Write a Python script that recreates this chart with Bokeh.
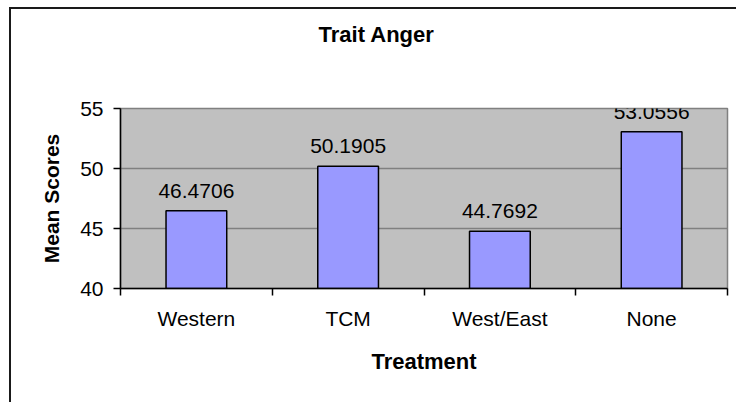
from bokeh.plotting import figure
from bokeh.layouts import column
from bokeh.models import Range1d, FixedTicker, Title
from bokeh.embed import file_html
from bokeh.resources import INLINE
from bokeh.core.properties import value
import numpy as np

# ---- data ----
categories = ["Western", "TCM", "West/East", "None"]
mean_scores = [46.4706, 50.1905, 44.7692, 53.0556]
y_ticks = [40, 45, 50, 55]
title_text = "Trait Anger"
x_title = "Treatment"
y_title = "Mean Scores"

FONT = "Liberation Sans"
y_min, y_max = y_ticks[0], y_ticks[-1]
n = len(categories)
centers = list(np.arange(n) + 0.5)
bounds = list(np.arange(n + 1).astype(float))

p = figure(width=736, height=402, output_backend="svg", toolbar_location=None,
           x_range=Range1d(0, n), y_range=Range1d(y_min, y_max),
           min_border_left=120, min_border_right=9, min_border_top=108,
           min_border_bottom=114, title=None)

p.background_fill_color = "#C0C0C0"
p.border_fill_color = None
p.outline_line_color = "#808080"
p.outline_line_width = 1.5

# spacer (closest to the frame) then the real title further out
p.add_layout(Title(text=" ", standoff=35, text_font=FONT, text_font_size="22px"), "above")
p.add_layout(Title(text=title_text, align="left", offset=198, vertical_align="bottom",
                   standoff=0, text_font=FONT, text_font_size="22px",
                   text_font_style="bold", text_color="black"), "above")

p.vbar(x=centers, top=mean_scores, bottom=y_min, width=0.4,
       fill_color="#9999FF", line_color="black", line_width=1.5)

p.text(x=centers, y=mean_scores, text=[f"{v:.4f}" for v in mean_scores],
       text_align="center", text_baseline="alphabetic", y_offset=-20,
       text_font=value(FONT), text_font_size="21px", text_color="black")

# axes
p.xgrid.visible = False
p.ygrid.ticker = FixedTicker(ticks=y_ticks)
p.ygrid.grid_line_color = "#808080"
p.ygrid.grid_line_width = 1.5

ya = p.yaxis[0]
ya.ticker = FixedTicker(ticks=y_ticks)
ya.axis_line_color = "black"
ya.axis_line_width = 1.5
ya.major_tick_in = 0
ya.major_tick_out = 7
ya.major_tick_line_color = "black"
ya.major_tick_line_width = 1.5
ya.minor_tick_line_color = None
ya.major_label_standoff = 10
ya.major_label_text_font = FONT
ya.major_label_text_font_size = "21px"
ya.major_label_text_color = "black"
ya.axis_label = y_title
ya.axis_label_standoff = 14
ya.axis_label_text_font = FONT
ya.axis_label_text_font_size = "21px"
ya.axis_label_text_font_style = "bold"
ya.axis_label_text_color = "black"

xa = p.xaxis[0]
xa.ticker = FixedTicker(ticks=centers, minor_ticks=bounds)
xa.major_label_overrides = {c: lab for c, lab in zip(centers, categories)}
xa.axis_line_color = "black"
xa.axis_line_width = 1.5
xa.major_tick_in = 0
xa.major_tick_out = 0
xa.minor_tick_in = 0
xa.minor_tick_out = 7
xa.minor_tick_line_color = "black"
xa.minor_tick_line_width = 1.5
xa.major_label_standoff = 11
xa.major_label_text_font = FONT
xa.major_label_text_font_size = "21px"
xa.major_label_text_color = "black"
xa.axis_label = x_title
xa.axis_label_standoff = 16
xa.axis_label_text_font = FONT
xa.axis_label_text_font_size = "22px"
xa.axis_label_text_font_style = "bold"
xa.axis_label_text_color = "black"

# outer chart border (top + left) painted as the wrapper's background
layout = column(p, styles={
    "background-color": "white",
    "background-image": "linear-gradient(#1a1a1a, #1a1a1a), linear-gradient(#1a1a1a, #1a1a1a)",
    "background-size": "2px 100%, 100% 2px",
    "background-position": "9px 7px, 9px 7px",
    "background-repeat": "no-repeat",
})

open("out.html", "w").write(file_html(layout, INLINE))
